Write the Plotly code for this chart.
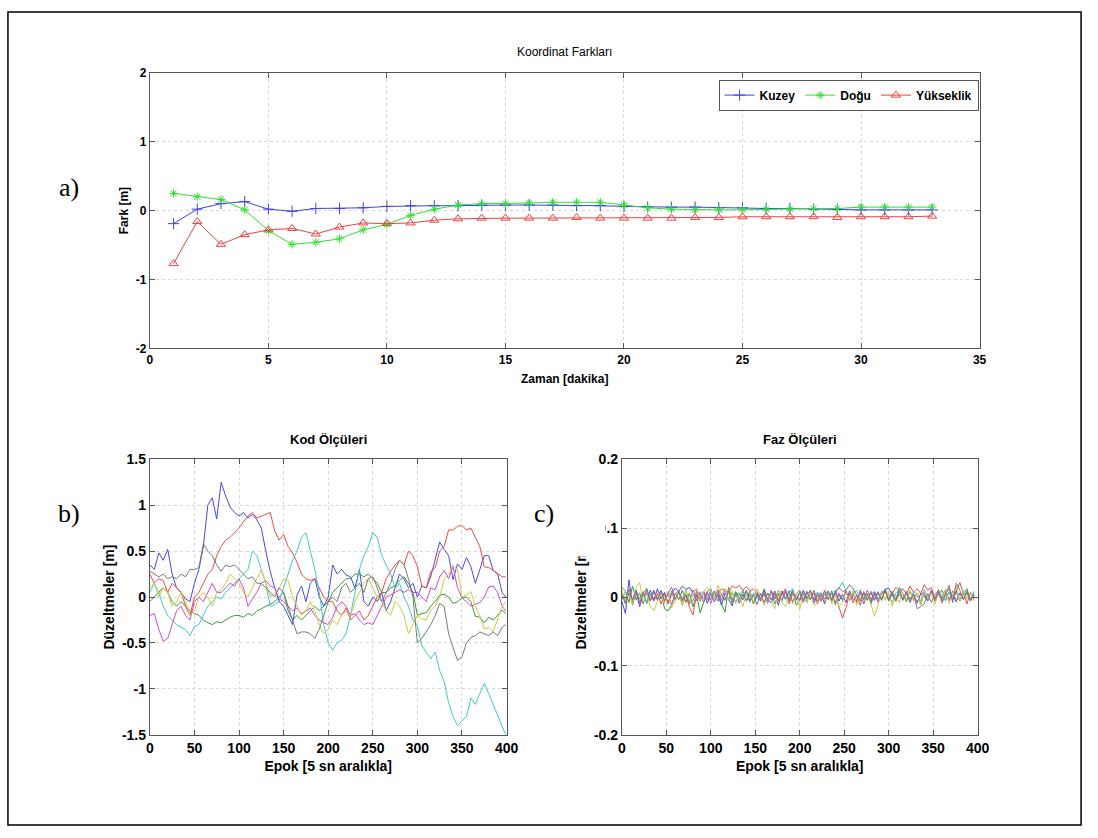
import plotly.graph_objects as go

# ---------------- Panel a: Koordinat Farkları ----------------
zaman = list(range(1, 34))
kuzey = [-0.19, 0.02, 0.10, 0.13, 0.02, -0.01, 0.03, 0.03, 0.04, 0.06, 0.07, 0.07, 0.07,
         0.08, 0.08, 0.08, 0.08, 0.07, 0.07, 0.06, 0.05, 0.05, 0.05, 0.04, 0.04, 0.03,
         0.03, 0.02, 0.02, 0.01, 0.01, 0.01, 0.01]
dogu = [0.25, 0.20, 0.16, 0.01, -0.29, -0.49, -0.46, -0.41, -0.28, -0.20, -0.07, 0.02, 0.08,
        0.10, 0.10, 0.11, 0.12, 0.12, 0.12, 0.08, 0.04, 0.02, 0.01, 0.01, 0.01, 0.02,
        0.02, 0.03, 0.03, 0.05, 0.05, 0.05, 0.05]
yukseklik = [-0.77, -0.16, -0.49, -0.35, -0.28, -0.26, -0.34, -0.24, -0.18, -0.19, -0.18, -0.14,
             -0.12, -0.11, -0.11, -0.11, -0.11, -0.10, -0.11, -0.11, -0.11, -0.11, -0.10,
             -0.10, -0.09, -0.09, -0.09, -0.09, -0.10, -0.09, -0.09, -0.09, -0.08]

# ---------------- Panel b: Kod Ölçüleri ----------------
epok_b = list(range(0, 400, 5)) + [399]
kod_mavi = [0.35, 0.30, 0.48, 0.40, 0.52, 0.25, 0.10, 0.05, -0.02, -0.05, 0.15, 0.30, 0.55, 1.00,
            1.08, 0.85, 1.25, 1.10, 0.98, 0.92, 0.88, 0.92, 0.86, 0.90, 0.84, 0.75, 0.50, 0.28,
            0.10, -0.05, -0.10, -0.20, -0.30, 0.02, 0.12, -0.05, 0.15, 0.20, 0.00, -0.10, 0.00,
            0.35, 0.25, 0.30, 0.24, 0.22, 0.10, 0.30, -0.05, -0.10, 0.00, -0.05, 0.05, -0.15,
            -0.05, 0.10, 0.25, 0.20, 0.10, 0.15, 0.00, 0.12, 0.10, 0.22, 0.40, 0.60, 0.52, 0.45,
            0.19, 0.36, 0.30, 0.43, 0.33, 0.15, 0.30, 0.45, 0.45, 0.29, 0.25, 0.05, 0.00]
kod_yesil = [-0.05, 0.00, 0.05, 0.10, 0.05, -0.05, -0.10, -0.05, -0.10, -0.15, -0.18, -0.20,
             -0.25, -0.28, -0.30, -0.27, -0.28, -0.25, -0.22, -0.20, -0.20, -0.22, -0.18, -0.20,
             -0.15, -0.13, -0.10, -0.08, -0.05, 0.00, 0.05, -0.15, -0.25, -0.20, -0.25, -0.20,
             -0.15, -0.10, -0.15, -0.10, -0.05, 0.05, 0.10, 0.15, 0.20, 0.20, 0.25, 0.25, 0.22,
             0.25, 0.20, 0.15, 0.05, 0.05, 0.10, 0.12, 0.18, 0.22, 0.15, 0.05, -0.20, -0.18,
             -0.17, -0.10, -0.05, 0.02, 0.03, 0.00, -0.07, -0.05, -0.01, 0.00, -0.05, -0.21,
             -0.22, -0.28, -0.22, -0.25, -0.20, -0.14, -0.18]
kod_kirmizi = [0.25, 0.15, 0.20, 0.18, 0.05, 0.15, 0.10, 0.05, -0.10, -0.20, 0.00, 0.05, 0.15,
               0.25, 0.30, 0.45, 0.55, 0.62, 0.65, 0.70, 0.75, 0.82, 0.88, 0.92, 0.86, 0.88,
               0.90, 0.92, 0.72, 0.62, 0.68, 0.55, 0.48, 0.38, 0.25, 0.20, 0.18, 0.20, 0.10,
               0.00, -0.05, -0.05, -0.15, -0.20, -0.12, -0.25, -0.20, -0.15, -0.25, -0.20,
               -0.10, 0.00, 0.05, 0.20, 0.28, 0.35, 0.40, 0.35, 0.50, 0.45, 0.33, 0.12, 0.10,
               0.28, 0.32, 0.50, 0.55, 0.73, 0.73, 0.77, 0.78, 0.73, 0.75, 0.65, 0.55, 0.33,
               0.32, 0.29, 0.25, 0.22, 0.22]
kod_camgobegi = [0.05, 0.15, 0.05, -0.10, -0.20, -0.25, -0.30, -0.33, -0.35, -0.42, -0.32,
                 -0.30, -0.20, -0.10, -0.05, 0.00, -0.02, 0.05, 0.10, 0.15, 0.20, 0.25, 0.30,
                 0.50, 0.45, 0.30, 0.15, -0.10, -0.08, -0.05, 0.10, 0.25, 0.40, 0.50, 0.65,
                 0.70, 0.50, 0.30, 0.05, -0.30, -0.50, -0.58, -0.50, -0.47, -0.40, -0.20, 0.05,
                 0.30, 0.45, 0.55, 0.70, 0.65, 0.45, 0.35, 0.25, 0.10, 0.15, 0.00, -0.10, -0.25,
                 -0.31, -0.53, -0.60, -0.67, -0.60, -0.80, -0.92, -1.15, -1.30, -1.40, -1.35,
                 -1.30, -1.10, -1.17, -1.05, -0.94, -1.05, -1.17, -1.30, -1.41, -1.50]
kod_mor = [-0.20, -0.18, -0.35, -0.48, -0.45, -0.30, -0.15, -0.10, -0.20, -0.25, -0.05, 0.00,
           -0.05, 0.05, 0.15, 0.05, 0.05, 0.10, 0.15, 0.12, 0.20, 0.10, -0.10, -0.02, 0.05,
           0.15, 0.18, 0.12, 0.10, -0.02, -0.05, -0.10, -0.15, -0.12, -0.18, -0.15, -0.12,
           -0.20, -0.25, -0.28, -0.30, -0.22, -0.10, -0.05, -0.10, -0.20, -0.18, -0.25, -0.30,
           -0.28, -0.30, -0.20, -0.10, 0.00, 0.02, 0.05, 0.08, 0.05, 0.08, 0.05, 0.05, 0.00,
           -0.05, 0.10, 0.08, 0.22, 0.29, 0.20, 0.33, 0.10, -0.01, -0.05, -0.10, -0.08, -0.06,
           0.00, 0.11, 0.12, 0.05, -0.10, -0.15]
kod_sari = [0.10, 0.15, 0.00, 0.10, 0.05, -0.10, -0.05, 0.05, -0.05, -0.20, -0.15, 0.00, 0.05,
            0.00, -0.10, 0.05, 0.08, 0.15, 0.25, 0.20, 0.15, 0.05, 0.00, 0.10, 0.20, 0.30,
            0.15, 0.00, 0.05, 0.10, 0.20, 0.18, 0.00, -0.10, -0.20, -0.15, -0.05, -0.15,
            -0.30, -0.40, -0.35, -0.25, -0.30, -0.20, -0.15, -0.20, -0.05, 0.05, 0.15, 0.20,
            0.10, 0.00, -0.05, -0.15, -0.20, -0.05, -0.10, -0.20, -0.40, -0.30, -0.20, -0.24,
            -0.25, -0.14, -0.10, 0.00, 0.19, 0.25, 0.35, 0.30, 0.00, 0.02, 0.06, -0.10, -0.20,
            -0.35, -0.33, -0.38, -0.25, -0.10, -0.05]
kod_gri = [0.28, 0.25, 0.22, 0.25, 0.20, 0.22, 0.20, 0.25, 0.22, 0.30, 0.30, 0.32, 0.58, 0.50,
           0.45, 0.35, 0.28, 0.35, 0.33, 0.35, 0.30, 0.25, 0.20, 0.22, 0.15, 0.15, 0.10, 0.05,
           0.00, 0.10, 0.05, -0.10, -0.25, -0.40, -0.38, -0.38, -0.40, -0.45, -0.35, -0.20,
           -0.05, 0.00, -0.05, 0.10, 0.15, 0.05, 0.10, 0.15, 0.05, 0.20, 0.22, 0.10, -0.05,
           0.05, 0.15, 0.30, 0.40, 0.35, 0.20, 0.00, -0.50, -0.45, -0.38, -0.30, -0.20, -0.07,
           -0.10, -0.40, -0.55, -0.69, -0.65, -0.50, -0.44, -0.42, -0.38, -0.40, -0.42, -0.38,
           -0.42, -0.33, -0.30]

# ---------------- Panel c: Faz Ölçüleri (values in mm) ----------------
epok_c = list(range(0, 400, 4))
faz_mavi_mm = [-6, -24, 25, -12, 8, -14, 4, -9, 10, -5, 12, -3, 7, -10, 5, 13, 8, 16, 11, 14,
               6, 12, -4, 8, -9, 5, -7, 3, -12, 6, -3, -13, 7, -9, 4, -5, 9, -10, 3, -6,
               10, -4, -8, 5, -12, 8, -3, 9, -7, 4, -5, 10, -2, 6, -9, 3, 6, -10, 8, -4,
               10, -6, 4, -8, 9, -3, -5, 7, -10, 4, -7, 8, -3, 5, 11, 13, 3, -6, 9, -4,
               6, -3, 4, -8, 5, 2, -6, 9, -4, 7, -2, 10, -5, 3, -7, 6, -3, 8, -4, 2]
faz_yesil_mm = [14, 9, -8, 16, -4, 6, -10, 12, -5, 8, -3, 9, -17, -20, -11, 5, -4, 10, -8, 6,
                -14, 4, -23, -7, 8, 12, -4, 9, -10, -22, 14, -5, 8, -3, 10, -6, 4, -9, 6, -3,
                12, -5, 8, -10, 4, -6, 9, -4, 11, -12, -5, 6, -8, 10, -4, 7, -6, 5, -3, 9,
                -11, 4, -5, 8, -3, 6, -8, 10, -4, 5, -10, 3, 6, -5, 12, -3, 8, -6, 14, 4,
                -7, 9, -4, 6, -10, 5, -3, 8, -6, 4, 10, -5, 7, -3, 9, -6, 5, 12, -4, 8]
faz_kirmizi_mm = [4, -5, 10, -7, 6, -3, 8, -9, 3, -6, 5, -10, 4, -8, 9, -5, 7, -12, 3, -15,
                  -26, 5, -6, 8, -4, 10, -5, 6, 12, 9, 7, 16, 13, 17, 10, 15, 9, 12, 7, -3,
                  6, -5, 8, 4, -6, 9, -3, 5, -8, 4, 10, -5, 8, -4, 6, -10, 3, -6, 7, -4,
                  5, -14, -30, -16, 5, -8, 3, -12, 6, -5, 8, -4, 6, -3, 9, -5, 4, 14, 9, 12,
                  4, 16, 7, 12, 5, 18, 10, 14, -3, 11, -9, 6, 12, -4, 8, 21, 6, -10, 7, -5]
faz_camgobegi_mm = [-4, 8, 3, -6, 10, -3, 5, -8, 4, 9, -5, 3, -8, 6, 5, -4, 8, -3, 10, -6,
                    4, -5, 8, 3, -4, 6, -5, 10, 4, -3, 8, -6, 5, -4, 9, 3, -8, 6, -3, 5,
                    4, -6, 8, -3, 10, 5, -4, 6, 12, -5, 8, 4, -6, 9, -3, 6, -4, 8, 5, -7,
                    9, 12, 22, 8, -5, 4, 10, -3, 6, -4, 8, 5, -6, 9, -3, 4, -8, 6, 10, -4,
                    5, -3, 8, 4, -6, 11, -3, 5, -4, 7, 3, -5, 8, -2, 6, -4, 9, 3, -5, 7]
faz_mor_mm = [5, -8, 12, -4, 9, -10, 3, 6, -5, 10, -3, 8, -6, 4, -11, 5, 9, -4, 3, -8,
              10, -5, 6, -3, 8, -9, 4, 10, -5, 12, -3, 6, -8, 4, -4, 9, -6, 3, 8, -5,
              4, -9, 10, -3, 6, -4, 8, -10, 5, -3, 6, -8, 4, 9, -5, 3, -6, 10, -4, 5,
              -8, 6, -3, 9, -5, 4, -6, 8, -3, 10, -4, 6, -8, 5, 9, -3, 6, -5, 4, -3,
              8, -6, 5, -9, 4, 7, -5, 10, -3, 6, -8, 4, -4, 9, -6, 5, -3, 8, -5, 4]
faz_sari_mm = [10, -5, 8, -12, 14, 21, -7, 4, -14, -20, -6, 5, -10, 8, -16, -4, 6, -12, 10, -8,
               5, 12, -4, 8, 14, 10, -5, 17, 4, 12, -6, 9, -10, 5, -14, 4, 8, -8, 12, 3,
               -12, 6, -5, -17, 10, -8, -14, 5, -10, 6, -18, 4, -8, 6, -12, -9, 5, -6, 8, -10,
               4, -14, -8, 6, -5, 9, -12, 5, -7, 3, -10, -28, -12, 6, -5, 9, -14, 4, -8, 6,
               -4, 10, -6, 5, -12, 8, -3, 6, -10, 4, -7, 12, -9, 4, 16, -5, 8, -3, 6, -4]
faz_gri_mm = [3, -10, 6, -4, 10, -8, 5, 12, -6, 8, -4, 10, -5, 6, 14, -3, 8, -6, 4, -10,
              -5, 8, 3, -8, 5, -4, 9, -6, 4, -5, 8, -9, 3, 6, -4, 10, -5, 3, -11, 5,
              -8, 6, -4, 9, -5, 3, 12, -6, 8, -4, 6, -5, 8, -4, 10, -6, 5, -3, 9, -5,
              6, 14, 8, 10, 18, 12, 4, -6, 8, -4, 6, -5, 8, -4, 10, -6, 5, -3, 9, -5,
              6, -8, 4, -17, -14, -10, 5, -8, 4, 9, -6, 3, 17, -8, 20, 10, -4, 8, -6, 3]

# ---------------- Styling ----------------
W, H = 1098, 838
FONT = "Liberation Sans"
C_BLUE, C_GREEN, C_RED = "#4040ee", "#30e030", "#ee4040"
ML = {"mavi": "#4a4ae0", "yesil": "#3a9a3a", "kirmizi": "#ee4a4a", "camgobegi": "#40caca",
      "mor": "#d04ad0", "sari": "#cccc40", "gri": "#7a7a7a"}


def px_x(p):
    return p / W


def px_y(p):
    return 1 - p / H


fig = go.Figure()

# Panel a
fig.add_trace(go.Scatter(x=zaman, y=kuzey, name="Kuzey", mode="lines+markers",
                         line=dict(color=C_BLUE, width=1),
                         marker=dict(symbol="cross-thin", size=8, color=C_BLUE,
                                     line=dict(width=1, color=C_BLUE)),
                         xaxis="x", yaxis="y"))
fig.add_trace(go.Scatter(x=zaman, y=dogu, name="Doğu", mode="lines+markers",
                         line=dict(color=C_GREEN, width=1),
                         marker=dict(symbol="asterisk", size=7, color=C_GREEN,
                                     line=dict(width=1, color=C_GREEN)),
                         xaxis="x", yaxis="y"))
fig.add_trace(go.Scatter(x=zaman, y=yukseklik, name="Yükseklik", mode="lines+markers",
                         line=dict(color=C_RED, width=1),
                         marker=dict(symbol="triangle-up-open", size=8, color=C_RED,
                                     line=dict(width=1, color=C_RED)),
                         xaxis="x", yaxis="y"))

# Panel b
kod = [("mavi", kod_mavi), ("yesil", kod_yesil), ("kirmizi", kod_kirmizi),
       ("camgobegi", kod_camgobegi), ("mor", kod_mor), ("sari", kod_sari), ("gri", kod_gri)]
for key, vals in kod:
    fig.add_trace(go.Scatter(x=epok_b, y=vals, mode="lines", showlegend=False,
                             line=dict(color=ML[key], width=1), xaxis="x2", yaxis="y2"))

# Panel c
faz = [("mavi", faz_mavi_mm), ("yesil", faz_yesil_mm), ("kirmizi", faz_kirmizi_mm),
       ("camgobegi", faz_camgobegi_mm), ("mor", faz_mor_mm), ("sari", faz_sari_mm),
       ("gri", faz_gri_mm)]
for key, vals in faz:
    fig.add_trace(go.Scatter(x=epok_c, y=[v / 1000 for v in vals], mode="lines",
                             showlegend=False, line=dict(color=ML[key], width=1),
                             xaxis="x3", yaxis="y3"))

axis_common = dict(showline=True, mirror="ticks", linecolor="#555555", linewidth=1,
                   ticks="inside", ticklen=5, tickcolor="#555555", showgrid=True,
                   gridcolor="#d8d8d8", griddash="dot", zeroline=False)
tf_top = dict(family=FONT, size=12, color="black", weight="bold")
tf_bot = dict(family=FONT, size=14, color="black", weight="bold")

fig.update_layout(
    width=W, height=H, margin=dict(l=0, r=0, t=0, b=0),
    paper_bgcolor="white", plot_bgcolor="white",
    font=dict(family=FONT, color="black"),
    xaxis=dict(domain=[px_x(148), px_x(990)], range=[0, 35], tickvals=[0, 5, 10, 15, 20, 25, 30, 35],
               tickfont=tf_top, anchor="y",
               title=dict(text="Zaman [dakika]", font=dict(family=FONT, size=12, weight="bold"),
                          standoff=8), **axis_common),
    yaxis=dict(domain=[px_y(347), px_y(66)], range=[-2, 2], tickvals=[-2, -1, 0, 1, 2],
               ticktext=["-2", "-1", "0", "1", "2"], tickfont=tf_top, anchor="x",
               title=dict(text="Fark [m]", font=dict(family=FONT, size=12, weight="bold"),
                          standoff=4), **axis_common),
    xaxis2=dict(domain=[px_x(148), px_x(510)], range=[0, 400], tickvals=list(range(0, 401, 50)),
                tickfont=tf_bot, anchor="y2",
                title=dict(text="Epok [5 sn aralıkla]", font=dict(family=FONT, size=14, weight="bold"),
                           standoff=6), **axis_common),
    yaxis2=dict(domain=[px_y(741), px_y(460)], range=[-1.5, 1.5],
                tickvals=[-1.5, -1, -0.5, 0, 0.5, 1, 1.5],
                ticktext=["-1.5", "-1", "-0.5", "0", "0.5", "1", "1.5"], tickfont=tf_bot,
                anchor="x2",
                title=dict(text="Düzeltmeler [m]", font=dict(family=FONT, size=14, weight="bold"),
                           standoff=4), **axis_common),
    xaxis3=dict(domain=[px_x(627), px_x(988)], range=[0, 400], tickvals=list(range(0, 401, 50)),
                tickfont=tf_bot, anchor="y3",
                title=dict(text="Epok [5 sn aralıkla]", font=dict(family=FONT, size=14, weight="bold"),
                           standoff=6), **axis_common),
    yaxis3=dict(domain=[px_y(741), px_y(460)], range=[-0.2, 0.2],
                tickvals=[-0.2, -0.1, 0, 0.1, 0.2],
                ticktext=["-0.2", "-0.1", "0", "0.1", "0.2"], tickfont=tf_bot, anchor="x3",
                title=dict(text="Düzeltmeler [m]", font=dict(family=FONT, size=14, weight="bold"),
                           standoff=4), **axis_common),
    legend=dict(orientation="h", x=px_x(989), xanchor="right", y=px_y(73), yanchor="top",
                bgcolor="white", bordercolor="#555555", borderwidth=1,
                font=dict(family=FONT, size=12, color="black", weight="bold"),
                itemwidth=30, tracegroupgap=0),
    showlegend=True,
)

annotations = [
    dict(text="Koordinat Farkları", x=px_x(569), y=px_y(45), font=dict(family=FONT, size=12)),
    dict(text="<b>Kod Ölçüleri</b>", x=px_x(329), y=px_y(440), font=dict(family=FONT, size=13)),
    dict(text="<b>Faz Ölçüleri</b>", x=px_x(808), y=px_y(440), font=dict(family=FONT, size=13)),
    dict(text="a)", x=px_x(66), y=px_y(183), font=dict(family="Liberation Serif", size=26)),
    dict(text="b)", x=px_x(66), y=px_y(515), font=dict(family="Liberation Serif", size=26)),
    # white label box of "c)" that hides part of the c-panel y label, as in the source figure
    dict(text=" ", x=px_x(569), y=px_y(518), width=78, height=78, bgcolor="white",
         font=dict(family=FONT, size=10)),
    dict(text="c)", x=px_x(548), y=px_y(515), font=dict(family="Liberation Serif", size=26)),
]
for a in annotations:
    fig.add_annotation(xref="paper", yref="paper", showarrow=False, xanchor="center",
                       yanchor="middle", **a)

fig.add_shape(type="rect", xref="paper", yref="paper", x0=px_x(4), x1=px_x(1093),
              y0=px_y(833), y1=px_y(4), line=dict(color="black", width=1.5))

fig.write_html("out.html", config={"displayModeBar": False},
               post_script="document.body.style.margin='0';document.body.style.overflow='hidden';")
